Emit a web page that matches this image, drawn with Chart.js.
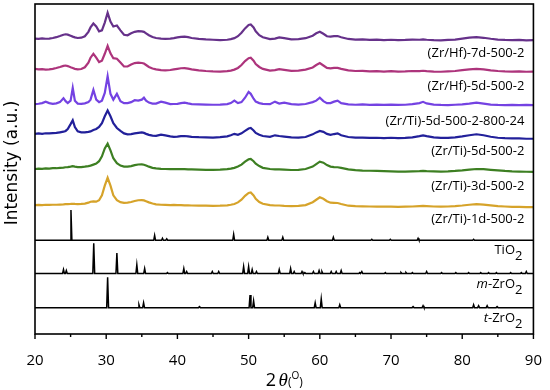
<!DOCTYPE html>
<html>
<head>
<meta charset="utf-8">
<script src="https://cdn.jsdelivr.net/npm/chart.js@4.4.1/dist/chart.umd.min.js"></script>
<style>
    html, body { margin: 0; padding: 0; background: #fff; }
</style>
</head>
<body>
<canvas id="xrd" width="550" height="390"></canvas>
<script>
// shared 2-theta grid for the measured patterns (denser around the peaks)
const twoTheta = [
    20, 20.5, 21, 21.5, 22, 22.5, 23, 23.5, 24, 24.3,
    24.6, 25, 25.3, 25.6, 26, 26.5, 27, 27.5, 27.8, 28.2,
    28.6, 29, 29.4, 29.8, 30.2, 30.6, 31, 31.5, 32, 32.5,
    33, 33.5, 34, 34.5, 35, 35.3, 35.6, 36, 36.5, 37,
    37.7, 38.3, 39, 39.5, 40, 40.5, 41, 41.5, 42, 43,
    44, 45, 46, 47, 47.5, 48, 48.5, 49, 49.5, 50,
    50.3, 50.7, 51, 51.5, 52, 53, 53.7, 54.3, 55, 56,
    57, 58, 59, 59.5, 60, 60.5, 61, 61.5, 62, 62.5,
    63, 64, 65, 66, 67, 68, 69, 70, 71, 72,
    73, 74, 74.5, 75, 76, 77, 78, 79, 80, 81,
    82, 83, 84, 85, 86, 87, 88, 89, 90
];

const hf7d = [
    0.5, 0.2, 0.8, 0.4, 0.6, 1.2, 2.0, 3.2, 4.5, 5.0,
    4.6, 3.5, 2.6, 1.8, 1.2, 1.5, 3.0, 7.5, 12, 16,
    13, 8, 9, 17, 27, 18, 13, 14, 9, 4.5,
    4, 6, 7.5, 8.2, 8, 7.5, 6, 4, 2.2, 1.2,
    0.6, 0.2, 0.5, 1, 1.8, 2.4, 2.6, 2.0, 1.2, 0.3,
    -0.3, -0.6, -1.0, -0.6, 0, 1, 3, 6.5, 11, 14.5,
    15, 12, 8, 4, 2, 0, 0.5, 1.8, 1, -0.2,
    0, 1, 3.5, 6, 7.5, 5.5, 3, 2.5, 3, 3.2,
    2, 0.2, -0.4, -0.2, -0.8, -0.5, -1, -0.6, -1, -0.8,
    -0.4, -0.6, -0.2, -0.6, -1, -1.2, -0.8, -0.4, 0.5, 1.5,
    2, 1.4, 0.4, -0.4, -0.8, -1, -0.8, -1.2, -1
];

const hf5d = [
    1.5, 1.0, 1.2, 0.8, 1.0, 1.6, 2.5, 3.5, 4.6, 5.0,
    4.4, 3.2, 2.4, 1.6, 1.0, 1.4, 3.2, 8, 13, 17,
    13, 8.5, 10, 17, 25, 17.5, 12.5, 12, 8, 4,
    4, 6, 7.5, 8, 7.6, 7.0, 5.5, 3.5, 2, 1,
    0.3, 0, 0.4, 1, 1.6, 2.2, 2.4, 1.8, 1, 0,
    -0.6, -1, -1.2, -0.8, -0.2, 0.8, 2.5, 5.5, 9.5, 12.5,
    13, 10, 6.5, 3.5, 1.5, -0.2, 0.2, 1.2, 0.6, -0.4,
    -0.2, 0.8, 3, 5.5, 7.5, 5, 2.5, 2, 2.5, 2.6,
    1.6, 0, -0.6, -0.4, -1, -0.8, -1.2, -0.8, -1.2, -1.0,
    -0.6, -0.8, -0.4, -0.8, -1.2, -1.4, -1, -0.6, 0.2, 1,
    1.5, 1, 0, -0.6, -1, -1.2, -1.0, -1.4, -1.2
];

const ti5d800 = [
    0.5, 0.8, 1.5, 3, 1.5, 0.8, 1.2, 2.5, 6.5, 3.5,
    1.5, 4, 17, 4, 1, 0.8, 1.2, 2.5, 5, 15,
    5, 2.5, 4, 12, 29, 11, 5, 11, 3.5, 1.5,
    1.5, 2.5, 4.5, 4, 5, 7, 4, 2, 1, 1,
    3, 2, 0.5, 0.6, 0.8, 1.5, 2, 1.2, 0.5, 0.2,
    0, -0.2, 0, 0.4, 1.5, 4, 1.5, 2.5, 7, 13,
    11, 6, 3, 1.5, 0.8, 0.4, 3, 1, 2, 0.4,
    0, 0.6, 2.5, 4, 7, 3.5, 1.5, 1.5, 3, 4,
    1.5, 0.2, -0.2, 0.2, -0.4, 0, -0.4, 0, -0.4, -0.2,
    0.4, 1.5, 2.8, 1.2, 0, -0.4, -0.6, -0.2, 0.2, 1,
    2, 1, 0, -0.4, -0.6, -0.4, -0.6, -0.4, -0.6
];

const ti5d = [
    3, 3.4, 3, 3.6, 3.4, 3.8, 4, 4.6, 5.2, 6,
    8, 13, 17, 10, 5.5, 4.5, 4.5, 5, 5.5, 7,
    8, 10, 14, 21, 27, 21, 14, 9, 6, 3.5,
    2.5, 2.8, 3.5, 4, 4.4, 4, 3, 2, 1.2, 1,
    2.2, 1.5, 0.5, 0, 0.2, 0.6, 0.8, 0.4, 0, -0.4,
    -0.6, -0.8, -0.4, 0.4, 1.5, 3, 2, 3.5, 6, 8.5,
    9, 6.5, 4, 2, 0.8, 0, 1.5, 0.8, 0.2, -0.6,
    -0.8, -0.2, 2.5, 4.5, 6, 5, 3, 2, 2.8, 3.5,
    1.5, -0.2, -0.8, -0.8, -1.2, -1, -1.4, -1, -1.4, -1.2,
    -0.6, 0.6, 1.4, 0.6, -0.6, -1.2, -1.2, -0.6, 0.4, 1.6,
    2.6, 1.6, 0, -1, -1.4, -1.6, -1.6, -2, -2
];

const ti3d = [
    0, 0.4, 0.2, 0.6, 0.4, 0.8, 0.8, 1.2, 1.5, 1.8,
    2, 2.5, 3, 2.4, 2, 2, 2.4, 3, 3.5, 4.5,
    5.5, 8, 13, 21, 26, 19, 11, 6, 3.5, 2.5,
    2.5, 3, 4, 4.6, 4.8, 4.4, 3.6, 2.4, 1.2, 0.6,
    0.2, 0, -0.2, 0, -0.2, 0, -0.2, -0.4, -0.4, -0.6,
    -0.8, -0.8, -0.6, -0.2, 0.4, 1.2, 2.5, 4.5, 7.5, 10,
    10.4, 8, 5.5, 3, 1.2, 0, -0.4, -0.4, -0.6, -1,
    -0.8, 0, 2.5, 5, 7.5, 6.5, 4, 2.5, 2, 1.8,
    1.2, -0.4, -1.2, -1.6, -1.8, -2, -2.2, -2.4, -2.6, -2.6,
    -2.4, -2.2, -2, -2.2, -2.4, -2.6, -2.4, -2, -1.4, -0.6,
    0, -0.2, -0.8, -1.4, -2, -2.4, -2.6, -2.8, -3
];

const ti1d = [
    0, 0.2, 0, 0.4, 0.2, 0.4, 0.4, 0.6, 0.8, 1,
    1, 1.2, 1.4, 1.2, 1, 1.2, 1.6, 2.5, 3.5, 3.8,
    3.5, 5, 10, 20, 28, 20, 10, 5, 3, 2.4,
    2.5, 3.2, 4.2, 5, 5.2, 4.8, 4, 2.8, 1.6, 0.8,
    0.4, 0.2, 0, 0.2, 0, 0, -0.2, -0.2, -0.4, -0.6,
    -0.6, -0.8, -0.6, -0.2, 0.4, 1.2, 2.8, 5.5, 9.5, 12.5,
    13, 10, 6.5, 3.2, 1.4, 0, -0.4, -0.4, -0.8, -1,
    -0.8, 0, 3, 5.5, 8, 6.5, 4, 2.5, 2.4, 2.2,
    1.2, -0.6, -1, -1.2, -1.4, -1.6, -1.6, -1.6, -1.8, -1.6,
    -1.4, -1, -0.8, -1, -1.4, -1.6, -1.4, -1, -0.4, 0.4,
    1, 0.6, -0.2, -1, -1.4, -1.8, -1.8, -2, -2
];

// reference patterns: peak positions and heights
const tio2Pos = [25.05, 36.8, 37.9, 38.5, 47.9, 52.7, 54.8, 61.9, 67.3, 69.9, 73.8, 81.6];
const tio2H = [31, 5, 2, 1.5, 6, 3, 3, 3, 1, 1, 2, 1];

const mZrPos = [24.0, 24.4, 28.25, 31.5, 34.3, 35.4, 38.6, 40.9, 41.3, 44.9,
    45.8, 49.3, 50.0, 50.5, 51.1, 54.3, 55.9, 56.4, 57.5, 57.9,
    59.1, 59.9, 60.3, 61.6, 62.3, 63.0, 65.6, 65.9, 69.2, 71.4,
    72.1, 73.0, 75.0, 77.1, 79.1, 80.9, 82.6, 83.7, 84.8, 86.8, 88.3, 89.0];
const mZrH = [4, 3, 31, 21, 9, 5, 1, 5, 2, 2,
    2, 7, 7, 4, 2, 4, 5, 2, 2, 1,
    2, 3, 2, 2, 2, 3, 1, 2, 1, 1,
    1, 1, 2, 1, 1, 1, 1, 1, 1, 1, 1, 2];

const tZrPos = [30.2, 34.6, 35.25, 43.1, 50.2, 50.7, 59.35, 60.2, 62.8, 73.1, 74.5, 81.6, 82.3, 83.5, 84.9];
const tZrH = [31, 3, 5, 1, 13, 7, 5, 9, 3, 1, 2, 3, 2, 2, 1];

const sampleNames = ['(Zr/Hf)-7d-500-2', '(Zr/Hf)-5d-500-2', '(Zr/Ti)-5d-500-2-800-24',
    '(Zr/Ti)-5d-500-2', '(Zr/Ti)-3d-500-2', '(Zr/Ti)-1d-500-2'];
const refNames = [
    [['TiO', 'n'], ['2', 'sub']],
    [['m', 'i'], ['-ZrO', 'n'], ['2', 'sub']],
    [['t', 'i'], ['-ZrO', 'n'], ['2', 'sub']]
];
const xTickValues = [20, 30, 40, 50, 60, 70, 80, 90];
const yTitle = 'Intensity (a.u.)';

// vertical stacking of the traces and their labels
const sampleOffsets = [302, 270, 235, 202, 169, 132];
const sampleLabelY = [287, 254, 218, 187, 151, 117];
const refOffsets = [96, 62, 27];
const refLabelY = [86, 51, 16];
const sampleColors = ['#66318a', '#ad347c', '#7442e2', '#22209a', '#3d7f22', '#d6a32a'];

function curve(values, offset)
{
    let pts = [];
    for (let i = 0; i < twoTheta.length; i++)
    {
        pts.push({ x: twoTheta[i], y: offset + values[i] });
    }
    return pts;
}

function sticks(pos, h, offset)
{
    let pts = [{ x: 20, y: offset }];
    for (let i = 0; i < pos.length; i++)
    {
        pts.push({ x: pos[i] - 0.13, y: offset });
        pts.push({ x: pos[i], y: offset + h[i] });
        pts.push({ x: pos[i] + 0.13, y: offset });
    }
    pts.push({ x: 90, y: offset });
    return pts;
}

let samples = [hf7d, hf5d, ti5d800, ti5d, ti3d, ti1d];
let datasets = [];
for (let i = 0; i < samples.length; i++)
{
    datasets.push({
        label: sampleNames[i],
        data: curve(samples[i], sampleOffsets[i]),
        borderColor: sampleColors[i],
        borderWidth: 2.2,
        pointRadius: 0,
        tension: 0,
    });
}
let refs = [[tio2Pos, tio2H], [mZrPos, mZrH], [tZrPos, tZrH]];
for (let i = 0; i < refs.length; i++)
{
    datasets.push({
        label: 'ref' + i,
        data: sticks(refs[i][0], refs[i][1], refOffsets[i]),
        borderColor: '#000',
        borderWidth: 1.5,
        pointRadius: 0,
        tension: 0,
    });
}

const decorations = {
    id: 'decorations',
    afterDraw(chart)
    {
        let ctx = chart.ctx;
        let area = chart.chartArea;
        let xs = chart.scales.x;
        let ys = chart.scales.y;
        ctx.save();
        ctx.strokeStyle = '#000';
        ctx.fillStyle = '#000';

        // frame
        ctx.lineWidth = 1.6;
        ctx.strokeRect(area.left, area.top, area.right - area.left, area.bottom - area.top);

        // outward ticks, long at labelled values
        ctx.lineWidth = 1.4;
        xs.ticks.forEach(t =>
        {
            let px = xs.getPixelForValue(t.value);
            let len = xTickValues.includes(t.value) ? 5 : 3;
            ctx.beginPath();
            ctx.moveTo(px, area.bottom);
            ctx.lineTo(px, area.bottom + len);
            ctx.stroke();
        });

        // sample labels
        let right = area.right - 9;
        ctx.textBaseline = 'middle';
        ctx.textAlign = 'right';
        ctx.font = '13px "Open Sans"';
        for (let i = 0; i < sampleNames.length; i++)
        {
            ctx.fillText(sampleNames[i], right, ys.getPixelForValue(sampleLabelY[i]));
        }

        // reference labels with italics and subscripts
        ctx.textAlign = 'left';
        for (let i = 0; i < refNames.length; i++)
        {
            let runs = refNames[i];
            let fonts = runs.map(r => r[1] === 'i' ? 'italic 13px "Open Sans"' : '13px "Open Sans"');
            let width = 0;
            runs.forEach((r, k) => { ctx.font = fonts[k]; width += ctx.measureText(r[0]).width; });
            let x = right - 2 - width;
            let y = ys.getPixelForValue(refLabelY[i]);
            runs.forEach((r, k) =>
            {
                ctx.font = fonts[k];
                ctx.fillText(r[0], x, r[1] === 'sub' ? y + 6 : y);
                x += ctx.measureText(r[0]).width;
            });
        }

        // y axis title
        ctx.save();
        ctx.translate(13, 163);
        ctx.rotate(-Math.PI / 2);
        ctx.textAlign = 'center';
        ctx.font = '17px "DejaVu Sans"';
        ctx.fillText(yTitle, 0, 0);
        ctx.restore();

        // x axis title: 2θ(°)
        let parts = [
            ['2', '18px "Open Sans"', 0],
            [' ', '10px "Open Sans"', 0],
            ['\u03b8', 'italic 19px "Liberation Serif"', 0],
            ['(', '12px "Open Sans"', 0],
            ['O', '10px "Open Sans"', -7],
            [')', '12px "Open Sans"', 0],
        ];
        ctx.textBaseline = 'alphabetic';
        let tw = 0;
        parts.forEach(p => { ctx.font = p[1]; tw += ctx.measureText(p[0]).width; });
        let tx = (area.left + area.right) / 2 - tw / 2;
        parts.forEach(p =>
        {
            ctx.font = p[1];
            ctx.fillText(p[0], tx, 386 + p[2]);
            tx += ctx.measureText(p[0]).width;
        });
        ctx.restore();
    }
};

new Chart('xrd', {
    type: 'line',
    data: { datasets: datasets },
    options: {
        responsive: false,
        animation: false,
        parsing: false,
        normalized: true,
        layout: { padding: { left: 35, right: 15, top: 4, bottom: 12 } },
        plugins: {
            legend: { display: false },
            tooltip: { enabled: false },
        },
        scales: {
            x: {
                type: 'linear',
                min: 20,
                max: 90,
                // grid hidden, tick length only reserves room above the labels
                grid: { display: false, drawTicks: true, tickLength: 10 },
                border: { display: false },
                ticks: {
                    stepSize: 5,
                    autoSkip: false,
                    maxRotation: 0,
                    padding: 8,
                    color: '#000',
                    font: { family: 'Open Sans', size: 15 },
                    callback: v => xTickValues.includes(v) ? String(v) : '',
                },
            },
            y: {
                type: 'linear',
                display: false,
                min: 0,
                max: 338,
            },
        },
    },
    plugins: [decorations],
});
</script>
</body>
</html>
